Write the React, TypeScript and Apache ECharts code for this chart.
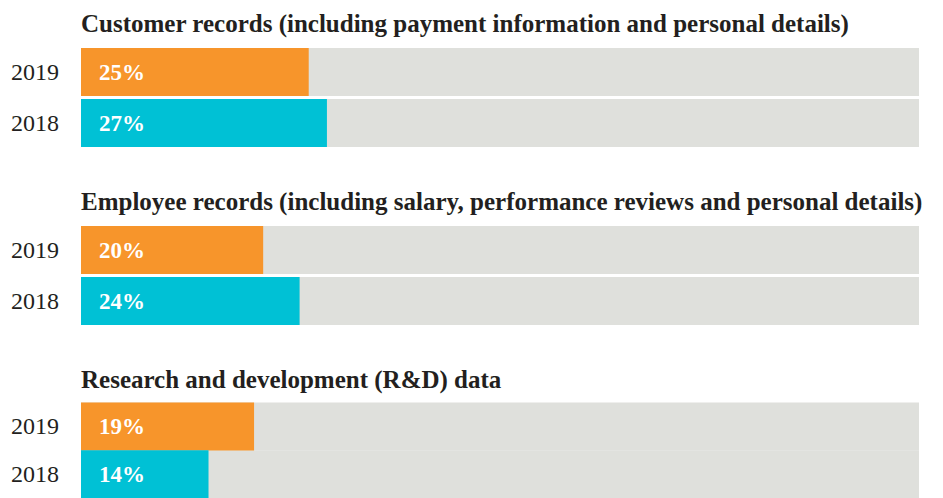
import React, { useEffect, useRef } from "react";
import * as echarts from "echarts";

const groupTitles = [
  "Customer records (including payment information and personal details)",
  "Employee records (including salary, performance reviews and personal details)",
  "Research and development (R&D) data",
];
const years = ["2019", "2018"];
const values2019 = [25, 20, 19];
const values2018 = [27, 24, 14];

const ORANGE = "#F7952B";
const CYAN = "#00C1D5";
const TRACK = "#DFE0DC";
const INK = "#231F20";
const SERIF = "'Liberation Serif', 'DejaVu Serif', serif";

export default function App() {
  const ref = useRef<HTMLDivElement>(null);
  useEffect(() => {
    if (!ref.current) return;
    const chart = echarts.init(ref.current, null, { renderer: "svg" });
    const gridTops = [46.5, 224.5, 402.5];
    const titleTops = [11, 189, 367];
    const grids = gridTops.map((t) => ({ left: 81, width: 838, top: t, height: 102 }));
    const xAxes = gridTops.map((_, i) => ({
      type: "value",
      gridIndex: i,
      min: 0,
      max: 92,
      show: false,
    }));
    const yAxes = gridTops.map((_, i) => ({
      type: "category",
      gridIndex: i,
      data: years,
      inverse: true,
      axisLine: { show: false },
      axisTick: { show: false },
      axisLabel: {
        margin: 22,
        fontFamily: SERIF,
        fontSize: 24,
        color: INK,
      },
    }));
    const series = gridTops.map((_, i) => ({
      type: "bar",
      xAxisIndex: i,
      yAxisIndex: i,
      barWidth: 48,
      showBackground: true,
      backgroundStyle: { color: TRACK },
      data: [
        { value: values2019[i], itemStyle: { color: ORANGE } },
        { value: values2018[i], itemStyle: { color: CYAN } },
      ],
      label: {
        show: true,
        position: "insideLeft",
        distance: 18,
        formatter: "{c}%",
        color: "#FFFFFF",
        fontFamily: SERIF,
        fontWeight: "bold",
        fontSize: 23,
      },
    }));
    chart.setOption({
      animation: false,
      backgroundColor: "#FFFFFF",
      title: groupTitles.map((t, i) => ({
        text: t,
        left: 81,
        top: titleTops[i],
        padding: 0,
        textStyle: {
          fontFamily: SERIF,
          fontWeight: "bold",
          fontSize: 25,
          color: INK,
        },
      })),
      grid: grids,
      xAxis: xAxes,
      yAxis: yAxes,
      series,
    });
    return () => chart.dispose();
  }, []);
  return (
    <div
      ref={ref}
      style={{ position: "fixed", left: 0, top: 0, width: 943, height: 498 }}
    />
  );
}
